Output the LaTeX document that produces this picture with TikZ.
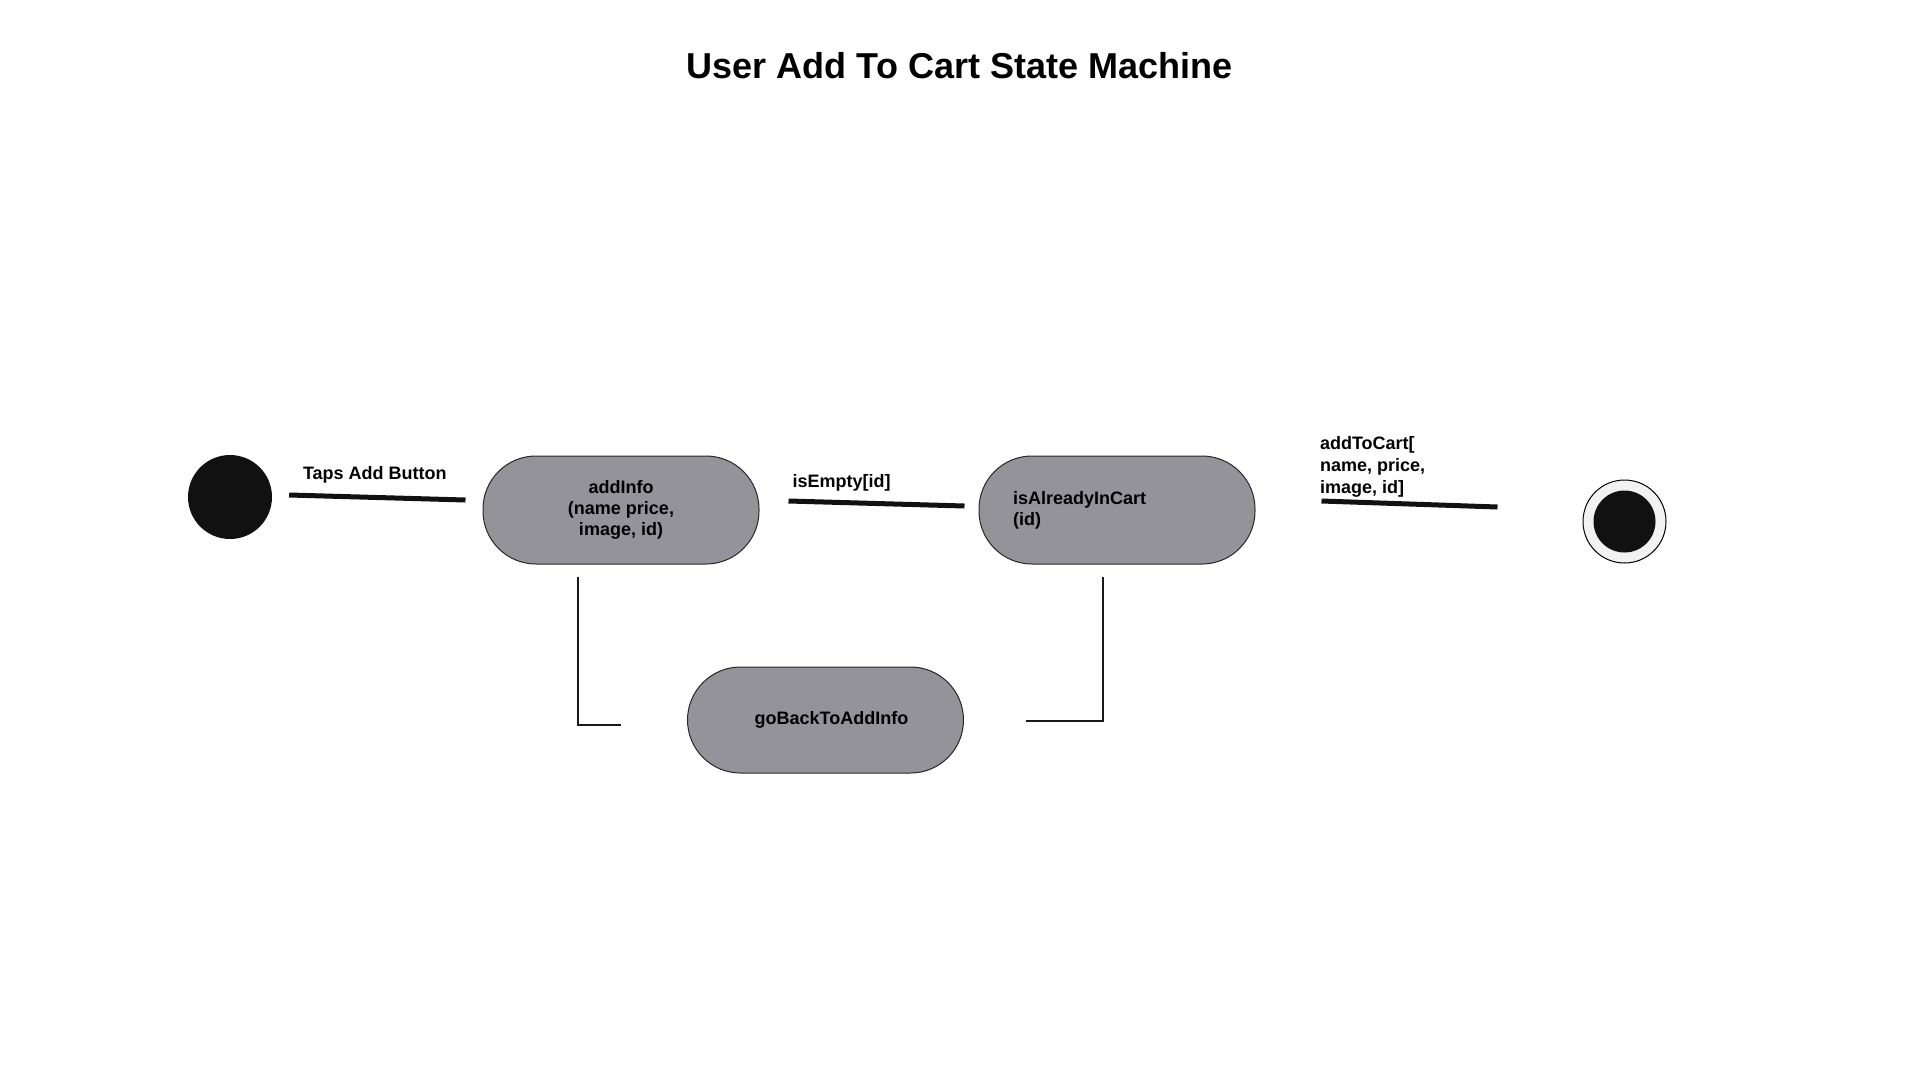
\documentclass[tikz,border=0pt]{standalone}
\usepackage{fontspec}
\setmainfont{Liberation Sans}
\usetikzlibrary{arrows}

\definecolor{statefill}{RGB}{148,147,154}
\definecolor{dotfill}{RGB}{17,17,17}
\definecolor{ringfill}{RGB}{242,242,242}

\tikzset{
	state/.style={draw=black!85, line width=1pt, fill=statefill, rounded corners=53pt,
		minimum width=276pt, minimum height=108pt, align=center,
		font=\fontsize{18}{21}\selectfont\bfseries},
	startdot/.style={circle, fill=dotfill, inner sep=0pt, minimum size=84pt},
	endring/.style={circle, draw=black, line width=1pt, fill=ringfill, inner sep=0pt, minimum size=83pt},
	trans/.style={line width=5pt, draw=dotfill},
	link/.style={line width=1.5pt, draw=black!90},
	lbl/.style={font=\fontsize{18}{22}\selectfont\bfseries, inner sep=0pt, align=left, text=black},
	title/.style={font=\fontsize{36}{40}\selectfont\bfseries}
}

\begin{document}
\begin{tikzpicture}[x=1pt,y=-1pt]
	\useasboundingbox (0,0) rectangle (1920,1080);

	\node[title] (T) at (959.5,66) {User Add To Cart State Machine};

	\node[startdot] (S) at (230,497) {};
	\node[state] (info) at (621,510) {addInfo\\(name price,\\image, id)};
	\node[state, text width=208pt, inner xsep=34pt, align=left] (cart) at (1117,510) {isAlreadyInCart\\(id)};
	\node[state, minimum height=106pt] (back) at (825.5,720) {\hspace*{12pt}goBackToAddInfo};
	\node[endring] (E) at (1624.5,521.5) {};
	\node[startdot, minimum size=62pt] (Edot) at (E) {};

	\path[trans] ([xshift=17pt,yshift=2pt]S.east) edge node[lbl, above=11.5pt, xshift=-2.5pt] {Taps Add Button} ([xshift=-17pt,yshift=10pt]info.west);
	\path[trans] ([xshift=29pt,yshift=9pt]info.east) edge node[lbl, pos=0, anchor=south west, xshift=1.5pt, yshift=7pt] {isEmpty[id]} ([xshift=-14pt,yshift=4pt]cart.west);
	\path[trans] ([xshift=66pt,yshift=9pt]cart.east) edge node[lbl, pos=0, anchor=south west, xshift=-4pt, yshift=1.5pt] {addToCart[\\name, price,\\image, id]} ([xshift=-85pt,yshift=14.5pt]E.west);

	\draw[link] ([xshift=-43pt,yshift=-12pt]info.south) |- ([xshift=-66pt,yshift=-5pt]back.west);
	\draw[link] ([xshift=-14pt,yshift=-12pt]cart.south) |- ([xshift=62pt,yshift=-1pt]back.east);
\end{tikzpicture}
\end{document}
